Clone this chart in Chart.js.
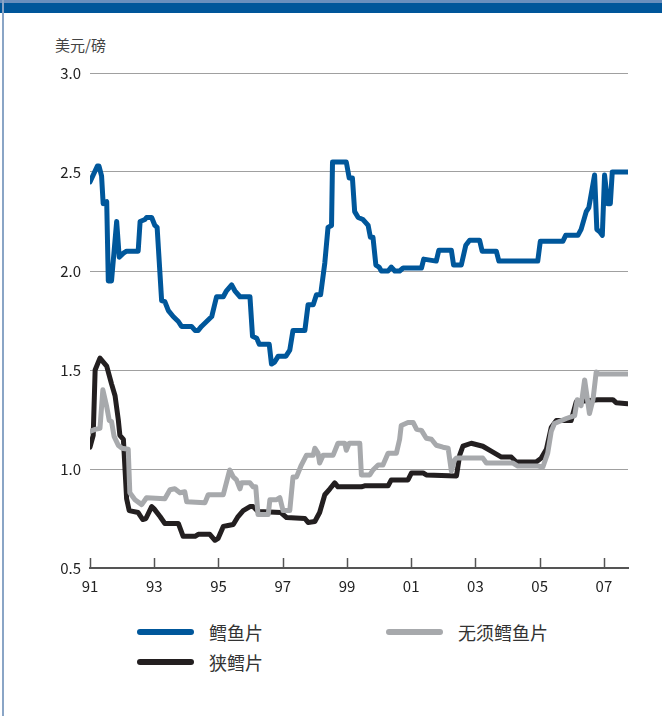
<!DOCTYPE html>
<html>
<head>
<meta charset="utf-8">
<script src="https://cdn.jsdelivr.net/npm/chart.js@4.4.1/dist/chart.umd.min.js"></script>
<style>
  body { margin: 0; background: #fff; font-family: "Noto Sans CJK SC", sans-serif; }
  #frame { position: relative; width: 662px; height: 716px; overflow: hidden; }
  #topbar { position: absolute; left: 0; top: 0; width: 662px; height: 13px; box-sizing: border-box;
            background: #00569a; border-top: 3px solid #6a8fbd; }
  #leftbar { position: absolute; left: 2px; top: 0; width: 2px; height: 716px; background: #8aa5c6; }
  #unit { position: absolute; left: 55px; top: 34px; font-size: 15px; color: #444; }
  canvas { position: absolute; left: 0; top: 0; }
  #legend { position: absolute; left: 137px; top: 617px; display: grid;
            grid-template-columns: 249px 220px; grid-auto-rows: 30px; align-items: center; }
  .item { display: flex; align-items: center; font-size: 18px; color: #333; }
  .swatch { width: 57px; height: 6px; border-radius: 3px; margin-right: 15px; }
</style>
</head>
<body>
<div id="frame">
  <div id="topbar"></div>
  <div id="leftbar"></div>
  <div id="unit">美元/磅</div>
  <canvas id="chart" width="662" height="610"></canvas>
  <div id="legend"></div>
</div>
<script>
// 鳕鱼片
const codYears = [1991.00,1991.23,1991.28,1991.36,1991.41,1991.52,1991.57,1991.67,1991.83,1991.91,
  1992.04,1992.14,1992.50,1992.56,1992.71,1992.76,1992.92,1993.02,1993.09,1993.23,
  1993.33,1993.44,1993.59,1993.75,1993.85,1994.16,1994.27,1994.37,1994.47,1994.63,
  1994.79,1994.94,1995.15,1995.25,1995.41,1995.51,1995.67,1995.98,1996.06,1996.19,
  1996.27,1996.58,1996.65,1996.75,1996.86,1997.10,1997.22,1997.32,1997.69,1997.79,
  1997.95,1998.05,1998.18,1998.31,1998.41,1998.52,1998.55,1998.98,1999.07,1999.17,
  1999.24,1999.35,1999.50,1999.66,1999.73,1999.81,1999.90,2000.00,2000.07,2000.28,
  2000.38,2000.49,2000.64,2000.75,2001.32,2001.39,2001.78,2001.86,2002.25,2002.32,
  2002.56,2002.70,2002.82,2003.13,2003.21,2003.65,2003.73,2004.94,2005.02,2005.72,
  2005.81,2006.19,2006.29,2006.45,2006.53,2006.71,2006.78,2006.86,2006.95,2007.02,
  2007.12,2007.20,2007.26,2007.74];
const codPrices = [2.45,2.53,2.53,2.48,2.34,2.35,1.95,1.95,2.25,2.07,
  2.09,2.10,2.10,2.25,2.26,2.27,2.27,2.23,2.22,1.85,
  1.845,1.80,1.77,1.745,1.72,1.72,1.70,1.70,1.72,1.745,
  1.77,1.87,1.87,1.90,1.93,1.90,1.87,1.87,1.67,1.66,
  1.63,1.63,1.53,1.54,1.57,1.57,1.60,1.70,1.70,1.83,
  1.83,1.88,1.88,2.04,2.22,2.23,2.55,2.55,2.47,2.47,
  2.30,2.27,2.26,2.23,2.17,2.17,2.03,2.02,2.00,2.00,
  2.02,2.00,2.00,2.015,2.015,2.06,2.05,2.105,2.105,2.03,
  2.03,2.13,2.155,2.155,2.10,2.10,2.05,2.05,2.15,2.15,
  2.18,2.18,2.21,2.30,2.32,2.485,2.21,2.20,2.18,2.485,
  2.34,2.34,2.50,2.50];

// 狭鳕片
const pollockYears = [1991.00,1991.10,1991.16,1991.31,1991.52,1991.67,1991.78,1991.88,1991.93,1992.04,
  1992.14,1992.22,1992.50,1992.64,1992.74,1992.92,1992.99,1993.18,1993.33,1993.75,
  1993.90,1994.27,1994.37,1994.73,1994.89,1994.99,1995.15,1995.30,1995.46,1995.61,
  1995.77,1995.98,1996.08,1996.23,1996.94,1997.12,1997.69,1997.79,1998.00,1998.15,
  1998.31,1998.47,1998.62,1998.72,1999.45,1999.55,2000.28,2000.38,2000.90,2001.01,
  2001.37,2001.47,2002.41,2002.51,2002.61,2002.87,2003.23,2003.49,2003.81,2004.12,
  2004.27,2004.89,2005.05,2005.21,2005.36,2005.52,2005.98,2006.14,2006.81,2007.28,
  2007.38,2007.74];
const pollockPrices = [1.11,1.17,1.50,1.56,1.52,1.43,1.37,1.25,1.17,1.15,
  0.85,0.79,0.78,0.745,0.75,0.81,0.80,0.76,0.725,0.725,
  0.66,0.66,0.67,0.67,0.64,0.65,0.71,0.715,0.72,0.76,
  0.79,0.81,0.81,0.785,0.78,0.755,0.75,0.73,0.735,0.78,
  0.87,0.90,0.93,0.91,0.91,0.915,0.915,0.945,0.945,0.98,
  0.98,0.97,0.965,1.07,1.115,1.13,1.115,1.09,1.06,1.06,
  1.035,1.035,1.055,1.10,1.21,1.245,1.245,1.34,1.35,1.35,
  1.335,1.33];

// 无须鳕鱼片
const hakeYears = [1991.00,1991.16,1991.31,1991.40,1991.52,1991.60,1991.67,1991.75,1991.88,1991.99,
  1992.19,1992.24,1992.40,1992.61,1992.76,1993.33,1993.49,1993.64,1993.80,1993.95,
  1994.01,1994.58,1994.68,1995.15,1995.35,1995.46,1995.56,1995.67,1995.72,1995.98,
  1996.08,1996.16,1996.23,1996.55,1996.60,1996.81,1996.91,1997.01,1997.22,1997.32,
  1997.43,1997.58,1997.74,1997.95,1998.00,1998.10,1998.15,1998.26,1998.57,1998.72,
  1998.93,1998.98,1999.07,1999.40,1999.45,1999.71,1999.81,1999.97,2000.12,2000.28,
  2000.54,2000.64,2000.69,2000.90,2001.06,2001.17,2001.32,2001.47,2001.63,2001.78,
  2001.99,2002.15,2002.25,2002.35,2002.41,2003.23,2003.34,2004.17,2004.32,2004.94,
  2005.10,2005.25,2005.36,2005.46,2005.83,2006.09,2006.17,2006.29,2006.40,2006.55,
  2006.66,2006.76,2006.83,2007.74];
const hakePrices = [1.19,1.20,1.205,1.40,1.315,1.245,1.24,1.165,1.12,1.105,
  1.10,0.88,0.845,0.82,0.855,0.85,0.895,0.90,0.88,0.885,
  0.835,0.83,0.87,0.87,0.995,0.96,0.945,0.90,0.93,0.93,
  0.91,0.91,0.77,0.77,0.845,0.845,0.855,0.79,0.79,0.96,
  0.96,1.02,1.07,1.07,1.105,1.08,1.03,1.07,1.07,1.13,
  1.13,1.095,1.13,1.13,0.97,0.97,0.995,1.02,1.02,1.08,
  1.08,1.15,1.22,1.235,1.235,1.20,1.195,1.155,1.15,1.12,
  1.11,1.105,0.99,1.045,1.055,1.055,1.03,1.03,1.015,1.015,
  1.01,1.08,1.19,1.23,1.255,1.27,1.35,1.32,1.45,1.28,
  1.35,1.49,1.48,1.48];

const tickYears = [1991, 1993, 1995, 1997, 1999, 2001, 2003, 2005, 2007];

const toPoints = (xs, ys) => xs.map((x, i) => ({ x: x, y: ys[i] }));

// short tick marks standing up from the x axis
const innerTicks = {
  id: 'innerTicks',
  afterDatasetsDraw(chart) {
    const { ctx, chartArea, scales } = chart;
    ctx.save();
    ctx.strokeStyle = '#555';
    ctx.lineWidth = 1.5;
    tickYears.forEach(y => {
      const px = Math.round(scales.x.getPixelForValue(y)) + 0.5;
      ctx.beginPath();
      ctx.moveTo(px, chartArea.bottom);
      ctx.lineTo(px, chartArea.bottom - 10);
      ctx.stroke();
    });
    ctx.restore();
  }
};

const lineStyle = { borderWidth: 5, pointRadius: 0, tension: 0,
  borderJoinStyle: 'round', borderCapStyle: 'round' };

const chart = new Chart(document.getElementById('chart'), {
  type: 'line',
  data: {
    datasets: [
      { label: '鳕鱼片', data: toPoints(codYears, codPrices), borderColor: '#00579b', ...lineStyle },
      { label: '无须鳕鱼片', data: toPoints(hakeYears, hakePrices), borderColor: '#a7a9ac', ...lineStyle },
      { label: '狭鳕片', data: toPoints(pollockYears, pollockPrices), borderColor: '#231f20', ...lineStyle }
    ]
  },
  options: {
    responsive: false,
    animation: false,
    layout: { padding: { top: 73, right: 34, left: 0, bottom: 0 } },
    plugins: { legend: { display: false }, tooltip: { enabled: false } },
    scales: {
      x: {
        type: 'linear',
        min: 1991,
        max: 2007.75,
        afterBuildTicks: scale => { scale.ticks = tickYears.map(v => ({ value: v })); },
        afterFit: scale => { scale.height = 42; },
        grid: { drawOnChartArea: false, drawTicks: false },
        border: { display: true, color: '#555', width: 2 },
        ticks: {
          padding: 9,
          maxRotation: 0,
          autoSkip: false,
          color: '#222',
          font: { family: '"Noto Sans CJK SC", sans-serif', size: 15 },
          callback: v => String(v % 100).padStart(2, '0')
        }
      },
      y: {
        min: 0.5,
        max: 3.0,
        afterFit: scale => { scale.width = 90; },
        grid: { color: '#a0a0a0', lineWidth: 1, drawTicks: false },
        border: { display: false },
        ticks: {
          stepSize: 0.5,
          padding: 9,
          color: '#222',
          font: { family: '"Noto Sans CJK SC", sans-serif', size: 15 },
          callback: v => v.toFixed(1)
        }
      }
    }
  },
  plugins: [innerTicks]
});

// legend: 鳕鱼片 / 无须鳕鱼片 on the first row, 狭鳕片 below
const legend = document.getElementById('legend');
chart.data.datasets.forEach(ds => {
  const item = document.createElement('div');
  item.className = 'item';
  const sw = document.createElement('span');
  sw.className = 'swatch';
  sw.style.background = ds.borderColor;
  item.appendChild(sw);
  item.appendChild(document.createTextNode(ds.label));
  legend.appendChild(item);
});
</script>
</body>
</html>
